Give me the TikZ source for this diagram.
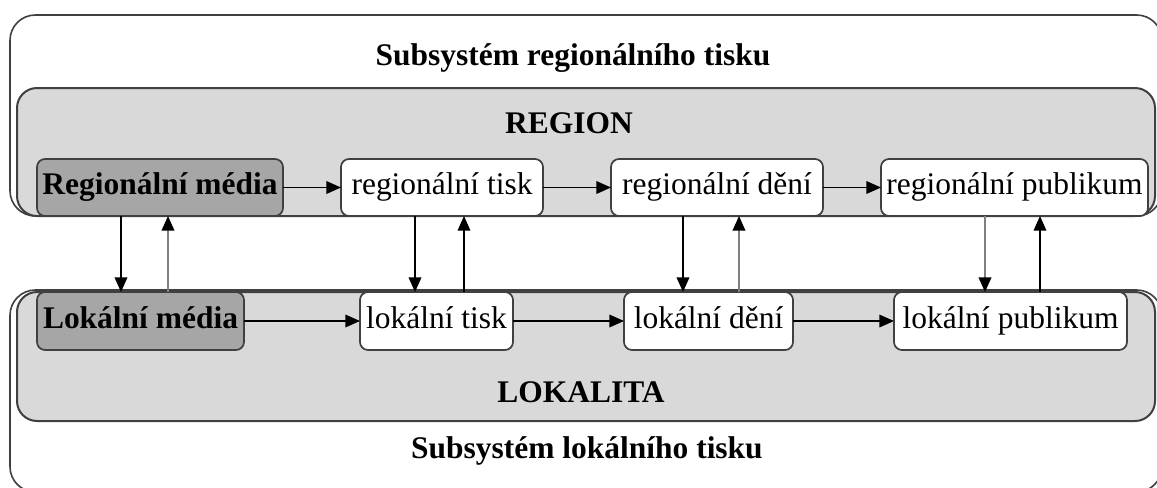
\documentclass[tikz,border=0pt]{standalone}
\usepackage{fontspec}
\setmainfont{Liberation Serif}
\usetikzlibrary{arrows.meta}
\begin{document}
\begin{tikzpicture}[x=0.75pt,y=-0.75pt,
  frame/.style={draw=black!75, line width=1.2pt, rounded corners=19pt, inner sep=0pt, outer sep=0pt},
  area/.style={draw=black!75, fill=black!15, line width=1.5pt, rounded corners=15pt, inner sep=0pt, outer sep=0pt},
  box/.style={draw=black!75, fill=white, line width=1.3pt, rounded corners=6pt, inner sep=0pt, outer sep=0pt,
    text height=15.5pt, text depth=5pt, font=\fontsize{23.6}{27}\selectfont},
  media/.style={box, fill=black!35, font=\fontsize{23.6}{27}\selectfont\bfseries},
  title/.style={font=\fontsize{23.6}{27}\selectfont\bfseries, anchor=base, inner sep=0pt},
  flow/.style={-{Triangle[length=11pt,width=9.5pt]}, line width=1.1pt, draw=black},
  back/.style={flow, draw=black!50, line width=1.3pt, -{Triangle[length=11pt,width=9.5pt,color=black]}},
]
\fill[white] (0,0) rectangle (1157,487);
\useasboundingbox (0,0) rectangle (1157,487);
\begin{scope}
\clip (0,0) rectangle (1157,487);

% outer subsystem frames
\node[frame, minimum width=864pt, minimum height=151.5pt] (lowframe) at (586,391) {};
\node[frame, minimum width=864pt, minimum height=150.75pt] (topframe) at (586,115.5) {};

% grey areas
\node[area, minimum width=853.5pt, minimum height=96pt] (region) at (586,152) {};
\node[area, minimum width=853.5pt, minimum height=96.75pt] (lokalita) at (586,356.5) {};

% titles
\node[title] (t1) at (573,65) {Subsystém regionálního tisku};
\node[title] (t2) at (569,133) {REGION};
\node[title] (t3) at (581,402) {LOKALITA};
\node[title] (t4) at (587,458) {Subsystém lokálního tisku};

% regional row
\node[media, minimum width=184.5pt, minimum height=42.75pt] (rm) at (160,187.5) {Regionální média};
\node[box, minimum width=151.5pt, minimum height=42.75pt] (rt) at (442,187.5) {regionální tisk};
\node[box, minimum width=159pt, minimum height=42.75pt] (rd) at (717,187.5) {regionální dění};
\node[box, minimum width=200.25pt, minimum height=42.75pt] (rp) at (1014.5,187.5) {regionální publikum};

% local row
\node[media, minimum width=155.25pt, minimum height=43.5pt] (lm) at (140.5,321) {Lokální média};
\node[box, minimum width=114.75pt, minimum height=43.5pt] (lt) at (436.5,321) {lokální tisk};
\node[box, minimum width=126.75pt, minimum height=43.5pt] (ld) at (708.5,321) {lokální dění};
\node[box, minimum width=174.75pt, minimum height=43.5pt] (lp) at (1010.5,321) {lokální publikum};

% horizontal flows
\draw[flow] (rm) -- (rt);
\draw[flow] (rt) -- (rd);
\draw[flow] (rd) -- (rp);
\draw[flow] (lm) -- (lt);
\draw[flow] (lt) -- (ld);
\draw[flow] (ld) -- (lp);

% vertical links between the levels
\draw[flow] (rm.south -| 121,0) -- (lm.north -| 121,0);
\draw[back] (lm.north -| 168,0) -- (rm.south -| 168,0);
\draw[flow] (rt.south -| 415,0) -- (lt.north -| 415,0);
\draw[flow] (lt.north -| 464,0) -- (rt.south -| 464,0);
\draw[flow] (rd.south -| 683,0) -- (ld.north -| 683,0);
\draw[back] (ld.north -| 739,0) -- (rd.south -| 739,0);
\draw[back] (rp.south -| 985,0) -- (lp.north -| 985,0);
\draw[flow] (lp.north -| 1040,0) -- (rp.south -| 1040,0);
\end{scope}
\end{tikzpicture}
\end{document}
